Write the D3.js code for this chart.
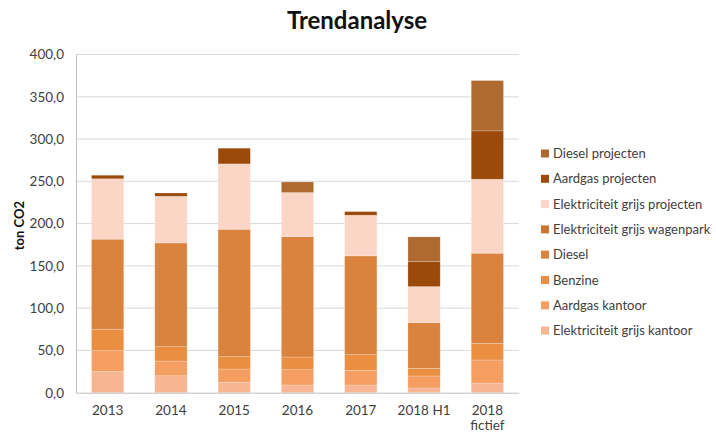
<!DOCTYPE html>
<html lang="nl">
<head>
<meta charset="UTF-8">
<title>Trendanalyse</title>
<script src="https://cdn.jsdelivr.net/npm/d3@7"></script>
<style>
  body { margin: 0; background: #fff; }
  text { font-family: Lato, "Open Sans", sans-serif; fill: #404040; }
</style>
</head>
<body>
<script>
// data (ton CO2)
const categories = ["2013", "2014", "2015", "2016", "2017", "2018 H1", "2018 fictief"];
const seriesNames = [
  "Elektriciteit grijs kantoor",
  "Aardgas kantoor",
  "Benzine",
  "Diesel",
  "Elektriciteit grijs wagenpark",
  "Elektriciteit grijs projecten",
  "Aardgas projecten",
  "Diesel projecten"
];
const elekKantoor   = [25, 20, 12.3, 9.1, 9.1, 5.6, 11.5];
const aardgasKantoor = [24.8, 17.4, 15.7, 18.1, 17.4, 14.2, 27.2];
const benzine       = [25.3, 17, 14.6, 15, 18.5, 9.1, 19.7];
const diesel        = [106.5, 122.7, 150.7, 142.4, 116.8, 54, 106.6];
const elekWagenpark = [0, 0, 0, 0, 0, 0, 0];
const elekProjecten = [71.4, 55.2, 77.3, 52.1, 48.1, 42.6, 87.5];
const aardgasProjecten = [4.2, 3.9, 18.6, 0, 4.3, 29.5, 57.2];
const dieselProjecten  = [0, 0, 0, 12.6, 0, 29.3, 59.5];
const yTicks = [0, 50, 100, 150, 200, 250, 300, 350, 400];

const colors = ["#f8b592", "#f59e62", "#ea8f42", "#d9833e", "#c67533", "#fbd6c6", "#9c4a0a", "#ae6a30"];
const values = [elekKantoor, aardgasKantoor, benzine, diesel, elekWagenpark, elekProjecten, aardgasProjecten, dieselProjecten];

const width = 716, height = 432;
const plotLeft = 76, plotRight = 519, plotTop = 54.5, plotBottom = 392.7;

const svg = d3.select("body").append("svg")
  .attr("width", width)
  .attr("height", height);

const rows = categories.map((c, i) => {
  const r = { cat: c };
  seriesNames.forEach((s, k) => r[s] = values[k][i]);
  return r;
});
const stacked = d3.stack().keys(seriesNames)(rows);

const x = d3.scaleBand().domain(categories).range([plotLeft, plotRight]).paddingInner(0.49).paddingOuter(0.245);
const y = d3.scaleLinear().domain([0, 400]).range([plotBottom, plotTop]);
const color = d3.scaleOrdinal().domain(seriesNames).range(colors);

// gridlines
svg.append("g")
  .selectAll("line")
  .data(yTicks.filter(d => d > 0))
  .join("line")
  .attr("x1", plotLeft).attr("x2", plotRight)
  .attr("y1", d => y(d)).attr("y2", d => y(d))
  .attr("stroke", "#d9d9d9").attr("stroke-width", 1);

// y axis
const yAxis = svg.append("g")
  .attr("transform", `translate(${plotLeft},0)`)
  .call(d3.axisLeft(y).tickValues(yTicks).tickSize(0).tickPadding(12)
    .tickFormat(d => d3.format(".1f")(d).replace(".", ",")));
yAxis.select(".domain").attr("stroke", "#bfbfbf");
yAxis.selectAll("text").style("font-size", "13.5px").attr("fill", "#404040");

// bars
svg.append("g")
  .selectAll("g")
  .data(stacked)
  .join("g")
  .attr("fill", d => color(d.key))
  .selectAll("rect")
  .data(d => d)
  .join("rect")
  .attr("x", d => x(d.data.cat))
  .attr("y", d => y(d[1]))
  .attr("width", x.bandwidth())
  .attr("height", d => y(d[0]) - y(d[1]))
  .attr("stroke", "#fff")
  .attr("stroke-opacity", 0.35)
  .attr("stroke-width", 0.6);

// x axis
const xAxis = svg.append("g")
  .attr("transform", `translate(0,${plotBottom})`)
  .call(d3.axisBottom(x).tickSize(0).tickPadding(13));
xAxis.select(".domain").attr("stroke", "#bfbfbf");
xAxis.selectAll(".tick text")
  .style("font-size", "13.5px")
  .attr("fill", "#404040")
  .text(d => d.split(" ")[0] === "2018" && d.endsWith("fictief") ? "2018" : d);
// second line for the wrapped label
xAxis.selectAll(".tick")
  .filter(d => d.endsWith("fictief"))
  .append("text")
  .attr("y", 37.5)
  .attr("fill", "#404040")
  .style("font-size", "13.5px")
  .text("fictief");

// title
svg.append("text")
  .attr("x", 357).attr("y", 29)
  .attr("text-anchor", "middle")
  .style("font-size", "24px")
  .style("font-weight", "bold")
  .style("fill", "#111")
  .text("Trendanalyse");

// y label
svg.append("text")
  .attr("transform", `translate(24,${(plotTop + plotBottom) / 2 + 2}) rotate(-90)`)
  .attr("text-anchor", "middle")
  .style("font-size", "13px")
  .style("font-weight", "bold")
  .style("fill", "#111")
  .text("ton CO2");

// legend (reverse order, top = last series)
const legendItems = seriesNames.slice().reverse();
const legend = svg.append("g")
  .selectAll("g")
  .data(legendItems)
  .join("g")
  .attr("transform", (d, i) => `translate(541,${153.5 + i * 25.3})`);
legend.append("rect")
  .attr("x", 0).attr("y", -4).attr("width", 8).attr("height", 8)
  .attr("fill", d => color(d));
legend.append("text")
  .attr("x", 12).attr("y", 0).attr("dy", "0.35em")
  .style("font-size", "13px")
  .text(d => d);
</script>
</body>
</html>
